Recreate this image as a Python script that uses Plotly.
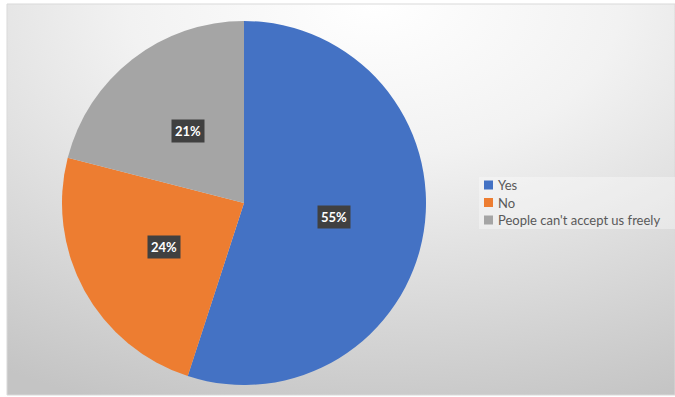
import base64, math
import plotly.graph_objects as go

categories = ["Yes", "No", "People can't accept us freely"]
values = [55, 24, 21]
colors = ["#4472C4", "#ED7D31", "#A5A5A5"]

W, H = 675, 397
# pie geometry in pixels
cx, cy, R = 244, 203, 182

svg = f'''<svg xmlns="http://www.w3.org/2000/svg" width="{W}" height="{H}" viewBox="0 0 {W} {H}" preserveAspectRatio="none">
<defs><radialGradient id="g" cx="0.55" cy="0.0" r="1.05" gradientUnits="objectBoundingBox" gradientTransform="translate(0.55,0) scale(1,1.05) translate(-0.55,0)">
<stop offset="0" stop-color="#ffffff"/><stop offset="0.35" stop-color="#f2f2f2"/><stop offset="1" stop-color="#c4c4c4"/></radialGradient></defs>
<rect x="0" y="0" width="{W}" height="{H}" fill="url(#g)"/></svg>'''
src = "data:image/svg+xml;base64," + base64.b64encode(svg.encode()).decode()

fig = go.Figure()
fig.add_trace(go.Pie(
    labels=categories, values=values, sort=False, direction="clockwise", rotation=0,
    marker=dict(colors=colors, line=dict(width=0)),
    textinfo="none", hoverinfo="label+percent", showlegend=False,
    domain=dict(x=[(cx - R) / W, (cx + R) / W], y=[1 - (cy + R) / H, 1 - (cy - R) / H]),
))

# labels at half radius along slice mid-angles
total = sum(values)
annotations = []
acc = 0
for v in values:
    mid = (acc + v / 2) / total * 2 * math.pi
    acc += v
    px = cx + 0.5 * R * math.sin(mid)
    py = cy - 0.5 * R * math.cos(mid)
    annotations.append(dict(
        x=px / W, y=1 - py / H, xref="paper", yref="paper", showarrow=False,
        xanchor="center", yanchor="middle",
        text=f"<b>{round(v / total * 100)}%</b>",
        font=dict(family="Lato, Open Sans, sans-serif", size=13, color="white"),
        bgcolor="#404040", borderpad=3,
    ))

shapes = [
    dict(type="rect", xref="paper", yref="paper", x0=7 / W, x1=1, y0=1 - (H - 2) / H, y1=1 - 4 / H,
         line=dict(color="#d9d9d9", width=1), fillcolor="rgba(0,0,0,0)", layer="below"),
    dict(type="rect", xref="paper", yref="paper", x0=479 / W, x1=1, y0=1 - 229 / H, y1=1 - 177 / H,
         line=dict(width=0), fillcolor="rgba(255,255,255,0.35)", layer="below"),
]

# custom legend
leg_x, leg_y0, leg_dy, sq = 484, 185, 17.5, 9
for i, (lab, col) in enumerate(zip(categories, colors)):
    yc = leg_y0 + i * leg_dy
    shapes.append(dict(type="rect", xref="paper", yref="paper",
                       x0=leg_x / W, x1=(leg_x + sq) / W,
                       y0=1 - (yc + sq / 2) / H, y1=1 - (yc - sq / 2) / H,
                       line=dict(width=0), fillcolor=col))
    annotations.append(dict(x=(leg_x + sq + 3) / W, y=1 - yc / H, xref="paper", yref="paper",
                            xanchor="left", yanchor="middle", showarrow=False, text=lab,
                            font=dict(family="Lato, Open Sans, sans-serif", size=13, color="#595959")))

fig.update_layout(
    width=W, height=H, margin=dict(l=0, r=0, t=0, b=0),
    paper_bgcolor="white", plot_bgcolor="rgba(0,0,0,0)",
    images=[dict(source=src, xref="paper", yref="paper", x=7 / W, y=1 - 4 / H,
                 sizex=(W - 7) / W, sizey=(H - 6) / H, xanchor="left", yanchor="top",
                 sizing="stretch", layer="below")],
    shapes=shapes,
    annotations=annotations,
    showlegend=False,
)
fig.write_html("out.html")
